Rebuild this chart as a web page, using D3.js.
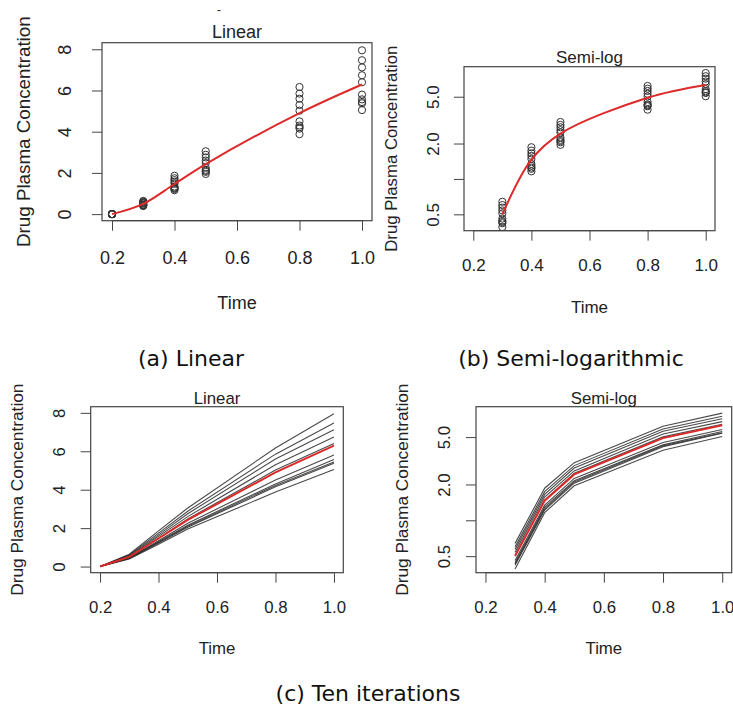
<!DOCTYPE html>
<html><head><meta charset="utf-8">
<script src="https://cdn.jsdelivr.net/npm/d3@7"></script>
<style>body{margin:0;background:#fff}svg{display:block}</style>
</head><body>
<svg id="c" width="733" height="710"></svg>
<script>
// ---------- data ----------
const times = [0.2, 0.3, 0.4, 0.5, 0.8, 1.0];
const iter1  = [0, 0.64, 1.86, 3.05, 6.17, 7.95];
const iter2  = [0, 0.60, 1.74, 2.88, 5.85, 7.47];
const iter3  = [0, 0.57, 1.65, 2.75, 5.60, 7.12];
const iter4  = [0, 0.54, 1.57, 2.60, 5.30, 6.74];
const iter5  = [0, 0.51, 1.48, 2.48, 5.02, 6.40];
const iter6  = [0, 0.46, 1.34, 2.25, 4.50, 5.80];
const iter7  = [0, 0.44, 1.29, 2.15, 4.30, 5.57];
const iter8  = [0, 0.43, 1.25, 2.10, 4.22, 5.44];
const iter9  = [0, 0.42, 1.22, 2.05, 4.15, 5.38];
const iter10 = [0, 0.39, 1.16, 1.95, 3.88, 5.05];
const iterations = [iter1, iter2, iter3, iter4, iter5, iter6, iter7, iter8, iter9, iter10];
const meanCurve = [0, 0.50, 1.46, 2.43, 4.90, 6.29];

const xTicks = [0.2, 0.4, 0.6, 0.8, 1.0];
const xTickLabels = ["0.2", "0.4", "0.6", "0.8", "1.0"];
const linTicks = [0, 2, 4, 6, 8];
const linTickLabels = ["0", "2", "4", "6", "8"];
const logTicks = [0.5, 1, 2, 5];
const logTickLabels = ["0.5", "", "2.0", "5.0"];

// ---------- drawing ----------
const svg = d3.select("#c");
const FONT = "'Liberation Sans', Arial, Helvetica, sans-serif";
const AX = "#444";
const RED = "#dd2a2a";
const LINE = "#2a2a2a";

function panel(o) {
  const g = svg.append("g");
  const x = d3.scaleLinear().domain([0.168, 1.032]).range([o.x0, o.x1]);
  const y = o.log
    ? d3.scaleLog().domain([0.363, 9.0]).range([o.y1, o.y0])
    : d3.scaleLinear().domain([-0.32, 8.32]).range([o.y1, o.y0]);
  const yT = o.log ? logTicks : linTicks;
  const yL = o.log ? logTickLabels : linTickLabels;

  // x axis
  const xa = g.append("g").attr("transform", `translate(0,${o.y1})`)
    .call(d3.axisBottom(x).tickValues(xTicks).tickFormat((d, i) => xTickLabels[i]).tickSize(10).tickSizeOuter(0));
  xa.select(".domain").remove();
  xa.append("line").attr("x1", x(xTicks[0])).attr("x2", x(xTicks[xTicks.length - 1])).attr("stroke", AX);
  xa.selectAll(".tick line").attr("stroke", AX);
  xa.selectAll("text").attr("y", o.xlabOff).attr("dy", "0.35em")
    .attr("font-family", FONT).attr("font-size", o.fs).attr("fill", "#222");

  // y axis
  const ya = g.append("g").attr("transform", `translate(${o.x0},0)`)
    .call(d3.axisLeft(y).tickValues(yT).tickFormat((d, i) => yL[i]).tickSize(10).tickSizeOuter(0));
  ya.select(".domain").remove();
  ya.selectAll(".tick line").attr("stroke", AX);
  ya.selectAll("text").attr("x", 0).attr("dy", "0.35em").attr("text-anchor", "middle")
    .attr("transform", `translate(${-o.ylabOff},0) rotate(-90)`)
    .attr("font-family", FONT).attr("font-size", o.fs).attr("fill", "#222");

  // clip
  const cid = "clip" + o.id;
  g.append("clipPath").attr("id", cid).append("rect")
    .attr("x", o.x0).attr("y", o.y0).attr("width", o.x1 - o.x0).attr("height", o.y1 - o.y0);
  const plot = g.append("g").attr("clip-path", `url(#${cid})`);

  const valid = d => !o.log || d > 0;

  if (o.points) {
    iterations.forEach(s => {
      plot.selectAll(null).data(times.map((t, i) => [t, s[i]]).filter(d => valid(d[1])))
        .enter().append("circle")
        .attr("cx", d => x(d[0])).attr("cy", d => y(d[1])).attr("r", 3.6)
        .attr("fill", "none").attr("stroke", "#333").attr("stroke-width", 1);
    });
    const line = d3.line().defined(d => valid(d[1])).x(d => x(d[0])).y(d => y(d[1])).curve(d3.curveCatmullRom.alpha(0.5));
    plot.append("path").datum(times.map((t, i) => [t, meanCurve[i]]).filter(d => valid(d[1])))
      .attr("d", line).attr("fill", "none").attr("stroke", RED).attr("stroke-width", 2);
  } else {
    const line = d3.line().defined(d => valid(d[1])).x(d => x(d[0])).y(d => y(d[1]));
    iterations.forEach(s => {
      plot.append("path").datum(times.map((t, i) => [t, s[i]]).filter(d => valid(d[1])))
        .attr("d", line).attr("fill", "none").attr("stroke", LINE).attr("stroke-width", 1.1).attr("stroke-opacity", 0.85);
    });
    plot.append("path").datum(times.map((t, i) => [t, meanCurve[i]]).filter(d => valid(d[1])))
      .attr("d", line).attr("fill", "none").attr("stroke", RED).attr("stroke-width", 2);
  }

  // box
  g.append("rect").attr("x", o.x0).attr("y", o.y0).attr("width", o.x1 - o.x0).attr("height", o.y1 - o.y0)
    .attr("fill", "none").attr("stroke", AX).attr("stroke-width", 1.2);

  // title & labels
  g.append("text").attr("x", (o.x0 + o.x1) / 2).attr("y", o.titleY).attr("dy", "0.35em")
    .attr("text-anchor", "middle").attr("font-family", FONT).attr("font-size", o.fs).attr("fill", "#222").text(o.title);
  g.append("text").attr("x", (o.x0 + o.x1) / 2).attr("y", o.timeY).attr("dy", "0.35em")
    .attr("text-anchor", "middle").attr("font-family", FONT).attr("font-size", o.fs).attr("fill", "#222").text("Time");
  g.append("text").attr("transform", `translate(${o.ylabX},${(o.y0 + o.y1) / 2}) rotate(-90)`).attr("dy", "0.35em")
    .attr("text-anchor", "middle").attr("font-family", FONT).attr("font-size", o.yfs).attr("fill", "#222")
    .text("Drug Plasma Concentration");
}

panel({id: "a", x0: 102, x1: 372, y0: 42.7, y1: 220.7, log: false, points: true, fs: 18, yfs: 18.8,
  xlabOff: 37.3, ylabOff: 37, title: "Linear", titleY: 32, timeY: 303, ylabX: 23});
panel({id: "b", x0: 464, x1: 715, y0: 66.7, y1: 230.7, log: true, points: true, fs: 17, yfs: 16.8,
  xlabOff: 34.3, ylabOff: 31, title: "Semi-log", titleY: 57, timeY: 307, ylabX: 391});
panel({id: "c", x0: 90.7, x1: 343.3, y0: 406.7, y1: 572.7, log: false, points: false, fs: 16.8, yfs: 17.3,
  xlabOff: 34.3, ylabOff: 31.7, title: "Linear", titleY: 398, timeY: 648, ylabX: 17});
panel({id: "d", x0: 476, x1: 731.7, y0: 406.7, y1: 572.7, log: true, points: false, fs: 16.8, yfs: 17.3,
  xlabOff: 34.3, ylabOff: 32, title: "Semi-log", titleY: 398, timeY: 648, ylabX: 402});

// small stray mark at the top
svg.append("text").attr("x", 219).attr("y", 10).attr("dy", "0.35em").attr("text-anchor", "middle")
  .attr("font-family", FONT).attr("font-size", 12).attr("fill", "#222").text("-");

// captions
const CAP = "'DejaVu Sans', 'Noto Sans', sans-serif";
[["(a) Linear", 191, 358], ["(b) Semi-logarithmic", 571, 358], ["(c) Ten iterations", 368, 693]].forEach(c => {
  svg.append("text").attr("x", c[1]).attr("y", c[2]).attr("dy", "0.35em").attr("text-anchor", "middle")
    .attr("font-family", CAP).attr("font-size", 22).attr("fill", "#111").text(c[0]);
});
</script>
</body></html>
